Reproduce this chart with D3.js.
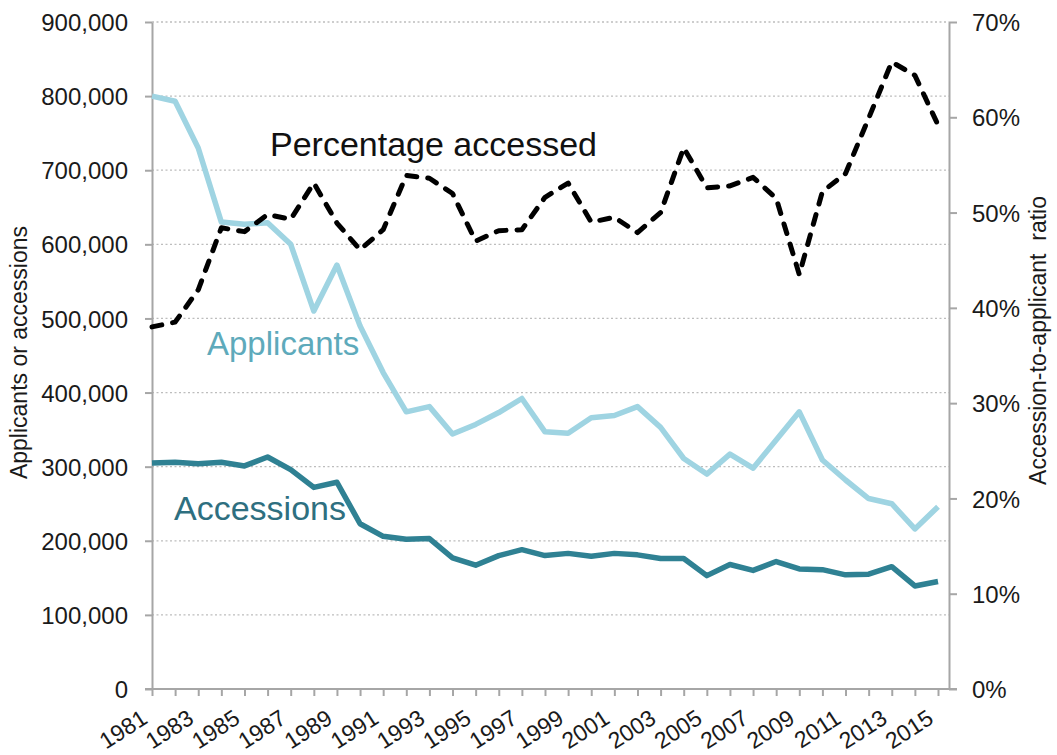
<!DOCTYPE html>
<html>
<head>
<meta charset="utf-8">
<script src="https://cdn.jsdelivr.net/npm/d3@7"></script>
<style>
  body { margin: 0; background: #fff; }
  text { font-family: "Liberation Sans", Arial, sans-serif; }
</style>
</head>
<body>
<div class="chart"></div>
<script>
const years = d3.range(1981, 2016)

const applicants = [800000, 793000, 730000, 630000, 627000, 629000, 600000, 510000, 572000, 490000,
  427000, 374000, 381000, 344000, 357000, 373000, 392000, 347000, 345000, 366000,
  369000, 381000, 353000, 311000, 290000, 317000, 298000, 336000, 374000, 309000,
  282000, 257000, 250000, 216000, 246000]

const accessions = [305000, 306000, 304000, 306000, 301000, 313000, 296000, 272000, 279000, 223000,
  206000, 202000, 203000, 177000, 167000, 180000, 188000, 180000, 183000, 179000,
  183000, 181000, 176000, 176000, 153000, 168000, 160000, 172000, 162000, 161000,
  154000, 155000, 165000, 139000, 145000]

const pctAccessed = [38.0, 38.5, 41.9, 48.4, 48.0, 49.8, 49.3, 53.1, 48.9, 46.1,
  48.2, 53.9, 53.6, 52.0, 47.0, 48.1, 48.2, 51.6, 53.1, 49.0,
  49.5, 47.9, 50.0, 56.8, 52.6, 52.8, 53.7, 51.5, 43.5, 52.2,
  54.1, 59.9, 65.8, 64.4, 59.2]

const leftTicks = d3.range(0, 900001, 100000)
const rightTicks = d3.range(0, 71, 10)
const yearLabels = d3.range(1981, 2016, 2)

const margin = { top: 22, right: 108, bottom: 66, left: 152 }
const W = 1057, H = 755
const width = W - margin.left - margin.right
const height = H - margin.top - margin.bottom

const axisColor = '#a6a6a6'
const applColor = '#9fd4e2'
const accColor = '#2f8193'

const svg = d3.select('.chart')
  .append('svg')
  .attr('width', W)
  .attr('height', H)
  .append('g')
  .attr('transform', `translate(${ margin.left },${ margin.top })`)

// last year sits a bit left of the right axis
const x = d3.scaleLinear().domain([1981, 2015]).range([0, width - 11])
const y = d3.scaleLinear().domain([0, 900000]).range([height, 0])
const y2 = d3.scaleLinear().domain([0, 70]).range([height, 0])

// gridlines
svg.append('g')
  .selectAll('line')
  .data(leftTicks.filter(d => d > 0))
  .enter()
  .append('line')
  .attr('x1', 0)
  .attr('x2', width)
  .attr('y1', d => y(d))
  .attr('y2', d => y(d))
  .attr('stroke', '#bdbdbd')
  .attr('stroke-width', 1.3)
  .attr('stroke-dasharray', '2,2.5')

const styleAxis = (g) => {
  g.select('.domain').attr('stroke', axisColor).attr('stroke-width', 2)
  g.selectAll('.tick line').attr('stroke', axisColor).attr('stroke-width', 2)
  g.selectAll('.tick text').attr('fill', '#1a1a1a')
}

const yAxis = svg.append('g')
  .call(d3.axisLeft(y).tickValues(leftTicks).tickSize(7).tickSizeOuter(0).tickPadding(17)
    .tickFormat(d3.format(',')))
yAxis.call(styleAxis)
yAxis.selectAll('.tick text').attr('font-size', '24px').attr('dy', '0.36em')

const y2Axis = svg.append('g')
  .attr('transform', `translate(${ width },0)`)
  .call(d3.axisRight(y2).tickValues(rightTicks).tickSize(8).tickSizeOuter(0).tickPadding(15)
    .tickFormat(d => d + '%'))
y2Axis.call(styleAxis)
y2Axis.selectAll('.tick text').attr('font-size', '24px').attr('dy', '0.36em')

const xAxis = svg.append('g')
  .attr('transform', `translate(0,${ height })`)
  .call(d3.axisBottom(x).tickValues(years).tickSize(7).tickSizeOuter(0).tickFormat(''))
xAxis.call(styleAxis)
xAxis.select('.domain').attr('d', `M-7,0H${ width + 8 }`)

svg.append('g')
  .selectAll('text')
  .data(yearLabels)
  .enter()
  .append('text')
  .attr('transform', d => `translate(${ x(d) - 3 },${ height + 33 }) rotate(-33)`)
  .attr('text-anchor', 'end')
  .attr('font-size', '23px')
  .attr('fill', '#1a1a1a')
  .text(d => d)

// axis titles
svg.append('text')
  .attr('transform', `translate(${ 27 - margin.left },${ height / 2 - 3 }) rotate(-90)`)
  .attr('text-anchor', 'middle')
  .attr('font-size', '23px')
  .attr('fill', '#1a1a1a')
  .text('Applicants or accessions')

svg.append('text')
  .attr('transform', `translate(${ width + 97 },${ height / 2 - 15 }) rotate(-90)`)
  .attr('text-anchor', 'middle')
  .attr('font-size', '23px')
  .attr('fill', '#1a1a1a')
  .style('white-space', 'pre')
  .text('Accession-to-applicant  ratio')

// lines
const line = (scale) => d3.line()
  .x((d, i) => x(years[i]))
  .y(d => scale(d))

svg.append('path')
  .attr('d', line(y)(applicants))
  .attr('fill', 'none')
  .attr('stroke', applColor)
  .attr('stroke-width', 5.5)
  .attr('stroke-linejoin', 'round')

svg.append('path')
  .attr('d', line(y)(accessions))
  .attr('fill', 'none')
  .attr('stroke', accColor)
  .attr('stroke-width', 5.5)
  .attr('stroke-linejoin', 'round')

svg.append('path')
  .attr('d', line(y2)(pctAccessed))
  .attr('fill', 'none')
  .attr('stroke', '#000')
  .attr('stroke-width', 5)
  .attr('stroke-linecap', 'round')
  .attr('stroke-linejoin', 'round')
  .attr('stroke-dasharray', '10,11')

// series labels
const labels = [
  { text: 'Percentage accessed', x: 118, y: 134, size: 34, color: '#111' },
  { text: 'Applicants', x: 55, y: 333, size: 33, color: '#5eaabb' },
  { text: 'Accessions', x: 22, y: 498, size: 34, color: '#2e6f80' }
]

svg.append('g')
  .selectAll('text')
  .data(labels)
  .enter()
  .append('text')
  .attr('x', d => d.x)
  .attr('y', d => d.y)
  .attr('font-size', d => d.size + 'px')
  .attr('fill', d => d.color)
  .text(d => d.text)
</script>
</body>
</html>
